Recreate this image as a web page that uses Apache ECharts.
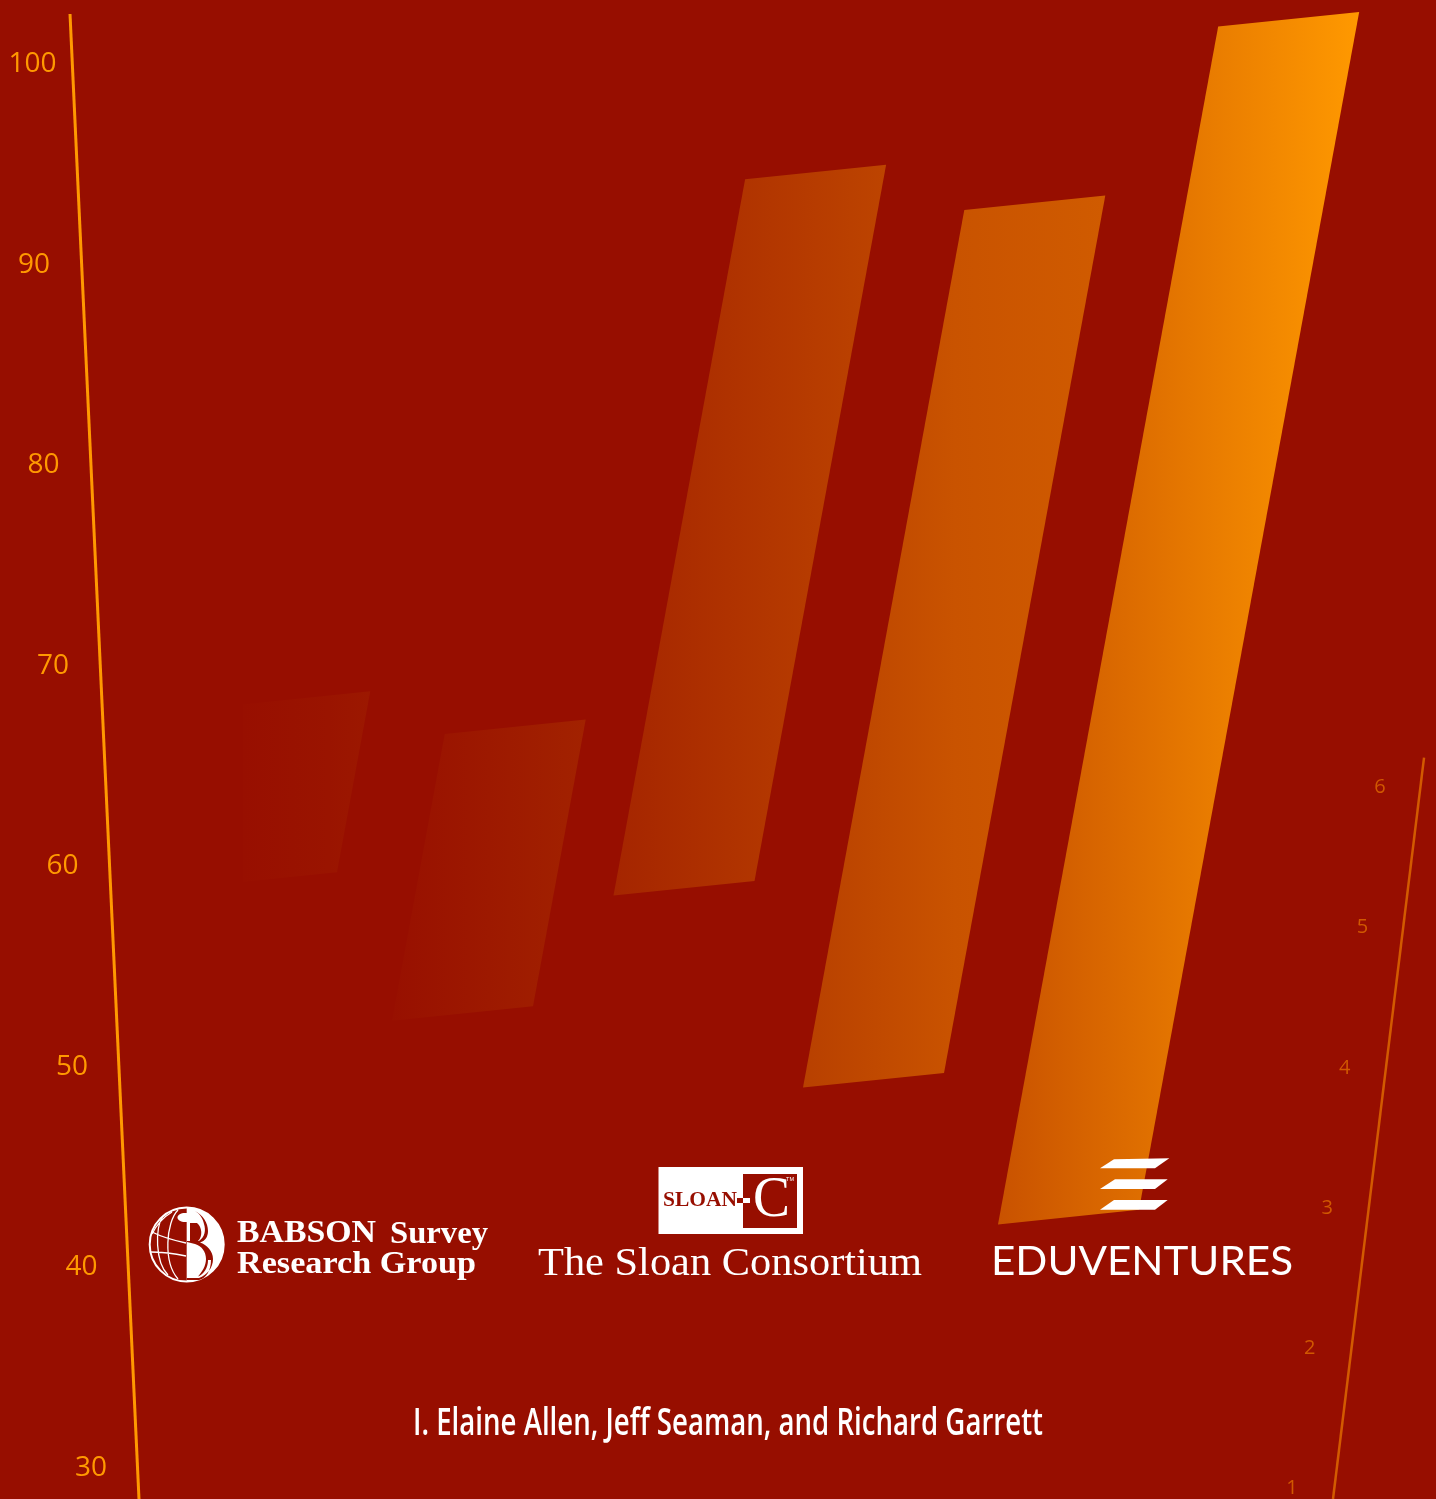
<!DOCTYPE html>
<html><head><meta charset="utf-8">
<style>html,body{margin:0;padding:0;background:#970e00}#c{width:1436px;height:1499px}</style>
<script src="https://cdn.jsdelivr.net/npm/echarts@6/dist/echarts.min.js"></script></head>
<body><div id="c"></div>
<script>
const barNames = ['Bar 1','Bar 2','Bar 3','Bar 4','Bar 5'];
const barStart = [196, 392, 613.5, 803, 998];
const barLow = [58.88, 52.2, 58.45, 48.87, 42.05];
const barHigh = [67.9, 66.5, 94.15, 92.62, 101.77];
const leftTicks = [100, 90, 80, 70, 60, 50, 40, 30];
const rightTicks = [6, 5, 4, 3, 2, 1];

const BG = '#970e00';
const barColors = [
  [[0,'#970e00'],[0.27,'#970e00'],[0.27,'#980f00'],[0.56,'#991200'],[0.76,'#9a1400'],[1,'#9c1800']],
  [[0,'#981000'],[1,'#a22200']],
  [[0,'#a52500'],[1,'#bd4400']],
  [[0,'#b84000'],[0.5,'#c95300'],[1,'#d05b00']],
  [[0,'#c95200'],[1,'#ff9900']]
];
const BAR_W = 141, LEAN = 0.1838, RISE = 0.103;

echarts.graphic.registerShape('logoPath', echarts.graphic.extendShape({
  type:'logoPath', shape:{d:''},
  buildPath(ctx, shape){
    const t = shape.d.match(/[MLCZ]|-?[\d.]+/g) || []; let i = 0; const n = ()=>parseFloat(t[i++]);
    while(i < t.length){
      const c = t[i++];
      if(c==='M') ctx.moveTo(n(),n());
      else if(c==='L') ctx.lineTo(n(),n());
      else if(c==='C') ctx.bezierCurveTo(n(),n(),n(),n(),n(),n());
      else if(c==='Z') ctx.closePath();
    }
  }
}));

const chart = echarts.init(document.getElementById('c'), null, {width:1436, height:1499});

function barItem(params, api){
  const i = params.dataIndex;
  const x = api.value(0), lo = api.value(1), hi = api.value(2);
  const a = api.coord([x, lo]), b = api.coord([x, hi]);
  const dx = (a[1]-b[1])*LEAN;
  const pts = [
    [a[0], a[1]],
    [a[0]+BAR_W, a[1]-BAR_W*RISE],
    [a[0]+BAR_W+dx, b[1]-BAR_W*RISE],
    [a[0]+dx, b[1]]
  ];
  return {type:'polygon', shape:{points:pts}, style:{
    fill:new echarts.graphic.LinearGradient(0,0,1,0,barColors[i].map(s=>({offset:s[0],color:s[1]})))
  }};
}
function slantLine(x0, v0, v1, lean, color, width){
  return function(params, api){
    const p0 = api.coord([x0, v0]), p1 = api.coord([x0, v1]);
    return {type:'line', shape:{x1:p0[0], y1:p0[1], x2:p0[0]+(p0[1]-p1[1])*lean, y2:p1[1]},
      style:{stroke:color, lineWidth:width}};
  };
}
function slantLabel(x0, v0, lean, font, color, align){
  return function(params, api){
    const v = api.value(0), p0 = api.coord([x0, v0]), p = api.coord([x0, v]);
    return {type:'text', x:p0[0]+(p0[1]-p[1])*lean, y:p[1]+2, style:{
      text:String(v), font:font, fill:color, textAlign:align, textVerticalAlign:'middle'}};
  };
}
const mctx = document.createElement('canvas').getContext('2d');
function fit(text, font, x, y, width, color){
  mctx.font = font;
  return {type:'text', z:10, x:x, y:y, scaleX:width/mctx.measureText(text).width, style:{
    text:text, font:font, fill:color||'#fff', textAlign:'left', textVerticalAlign:'middle'}};
}
const stripe = (pts)=>({type:'polygon', z:10, shape:{points:pts}, style:{fill:'#fff'}});
const path = (d, style)=>({type:'logoPath', z:10, shape:{d:d}, style:style});

const logos = [
  // Babson globe + B
  {type:'circle', z:10, shape:{cx:186.7,cy:1244.5,r:37}, style:{fill:'none',stroke:'#fff',lineWidth:2}},
  path('M186.7 1207.5 C207 1207.5 223.7 1224 223.7 1244.5 C223.7 1265 207 1281.5 186.7 1281.5 Z', {fill:'#fff'}),
  path('M190 1223 L197 1223 C202 1227 203 1236 198 1241 L190 1241 Z', {fill:BG}),
  path('M195 1211 C203 1215 208 1223 208 1231 C208 1237 205 1241 200 1242.5 C207 1245 213 1251 213 1259 C213 1268 207 1275 199 1278 L186.7 1278 L186.7 1280 L199 1280 C206 1279 211 1270 211 1260 L208 1260 C208 1268 204 1274 198 1276.5 C202 1272 206 1266 206 1259 C206 1252 202 1246 195 1244 L187 1242 L187 1241 L199 1241 C205 1237 206 1230 204 1224 C203 1219 200 1214 195 1211 Z', {fill:BG}),
  {type:'ellipse', z:11, shape:{cx:185,cy:1217.5,rx:7.5,ry:4.5}, style:{fill:'#fff'}},
  path('M178 1210 C166 1222 163 1262 178 1279 M163 1216 C155 1228 155 1262 168 1275 M152 1232 C162 1237 172 1240 186 1243 M150 1252 C160 1252 172 1253 186 1256 M172 1212 C162 1218 156 1226 152 1234', {fill:'none',stroke:'#fff',lineWidth:1.3}),
  fit('BABSON', 'bold 32px "Liberation Serif"', 237, 1234, 139),
  fit('Survey', 'bold 31px "Liberation Serif"', 390, 1235, 98),
  fit('Research Group', 'bold 31px "Liberation Serif"', 237, 1265, 239),
  // Sloan-C
  {type:'rect', z:10, shape:{x:658.5,y:1167,width:144.5,height:67}, style:{fill:'#fff'}},
  {type:'rect', z:10, shape:{x:743,y:1174,width:54,height:54}, style:{fill:BG}},
  fit('SLOAN', 'bold 21px "Liberation Serif"', 663, 1201, 74, BG),
  {type:'rect', z:10, shape:{x:737,y:1198,width:6,height:5}, style:{fill:BG}},
  {type:'rect', z:10, shape:{x:743,y:1198,width:7,height:5}, style:{fill:'#fff'}},
  fit('C', '58px "Liberation Serif"', 753, 1201, 37),
  fit('TM', '6px "Liberation Sans"', 786, 1179, 8),
  fit('The Sloan Consortium', '39px "Liberation Serif"', 538, 1265, 384),
  // Eduventures
  stripe([[1100,1168.3],[1155,1168.3],[1169.3,1158.3],[1114,1159.3]]),
  stripe([[1100,1189],[1155,1189],[1167.7,1179.3],[1115,1179.3]]),
  stripe([[1100,1209.7],[1155,1209.7],[1167.7,1200],[1114,1200]]),
  fit('EDUVENTURES', '40px "Lato"', 991, 1262, 302),
  // Authors
  fit('I. Elaine Allen, Jeff Seaman, and Richard Garrett', '600 38px "Open Sans"', 413, 1424, 630)
];

const option = {
  backgroundColor: BG,
  animation: false,
  grid: {left:0, right:0, top:0, bottom:0, containLabel:false},
  xAxis: {type:'value', min:0, max:1436, show:false},
  yAxis: [
    {type:'value', min:28.36, max:103.09, show:false},
    {type:'value', min:0.907, max:11.61, show:false}
  ],
  graphic: logos,
  series: [
    {type:'custom', name:'Bars', coordinateSystem:'cartesian2d', clip:false,
     renderItem:barItem, encode:{x:0,y:[1,2]},
     data: barNames.map((n,i)=>({name:n, value:[barStart[i], barLow[i], barHigh[i]]}))},
    {type:'custom', name:'Left axis line', clip:false,
     renderItem:slantLine(139, 28.36, 102.39, -0.04646, '#ff9900', 3), encode:{x:0,y:1},
     data:[[139, 28.36]]},
    {type:'custom', name:'Left axis labels', clip:false,
     renderItem:slantLabel(75, 30, -0.04737, '28px "Open Sans"', '#ff9900', 'left'), encode:{y:0},
     data:leftTicks.map(v=>[v])},
    {type:'custom', name:'Right axis line', clip:false, yAxisIndex:1,
     renderItem:slantLine(1333, 0.907, 6.2, 0.1228, '#d25a00', 2.5), encode:{x:0,y:1},
     data:[[1333, 0.907]]},
    {type:'custom', name:'Right axis labels', clip:false, yAxisIndex:1,
     renderItem:slantLabel(1292, 1, 0.1257, '20px "Open Sans"', '#d05800', 'center'), encode:{y:0},
     data:rightTicks.map(v=>[v])}
  ]
};
chart.setOption(option);
</script></body></html>
